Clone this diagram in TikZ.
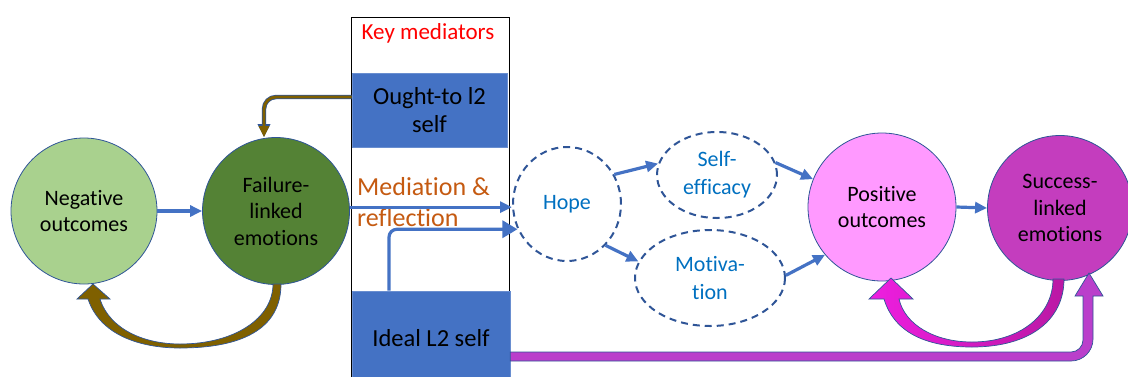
\documentclass[tikz,border=0pt]{standalone}
\usepackage{fontspec}
\setmainfont{Carlito}[Ligatures=NoCommon]
\usetikzlibrary{arrows.meta,shapes.geometric}
\definecolor{ab}{HTML}{4472C4}
\definecolor{olblue}{HTML}{2F5597}
\definecolor{txtblue}{HTML}{0070C0}
\definecolor{negc}{HTML}{A9D18E}
\definecolor{failc}{HTML}{548235}
\definecolor{posc}{HTML}{FF99FF}
\definecolor{succc}{HTML}{C43DBE}
\definecolor{brownc}{HTML}{7F6000}
\definecolor{orangec}{HTML}{C55A11}
\definecolor{purplec}{HTML}{BA3FCB}
\definecolor{magA}{HTML}{EE1EE0}
\definecolor{magB}{HTML}{BA18A4}
\newcommand\fsCirc{\fontsize{22}{26.5}\selectfont}
\newcommand\fsEll{\fontsize{22}{28}\selectfont}
\newcommand\fsBox{\fontsize{24.5}{28}\selectfont}
\newcommand\fsKey{\fontsize{23}{26}\selectfont}
\newcommand\fsMed{\fontsize{26}{31}\selectfont}
\begin{document}
\begin{tikzpicture}[x=1pt,y=-1pt,
  circ/.style={circle, draw=olblue, line width=0.8pt, inner sep=0pt, align=center, font=\fsCirc, text=black},
  dashell/.style={ellipse, draw=olblue, line width=2pt, dash pattern=on 7pt off 5pt, inner sep=0pt, align=center, font=\fsEll, text=txtblue},
  bluebox/.style={rectangle, fill=ab, draw=ab!80!white, line width=0.6pt, inner sep=0pt, align=center, font=\fsBox, text=black},
  barrow/.style={draw=ab, line width=3.2pt, -{Triangle[length=12pt,width=11pt]}},
  blockol/.style={draw=olblue, line width=0.7pt}
]
\useasboundingbox (0,0) rectangle (1128,376);

% key mediators frame
\node[draw=black, line width=1pt, fill=white, minimum width=158pt, minimum height=363pt, inner sep=0pt] (key) at (430,198.5) {};
\node[text=red, font=\fsKey] (keylabel) at (428,33) {Key mediators};
\node[bluebox, minimum width=155pt, minimum height=74pt] (ought) at (429.5,110) {Ought-to l2\\self};
\node[bluebox, minimum width=158pt, minimum height=94pt] (ideal) at (431,338) {Ideal L2 self};

% circles
\node[circ, fill=negc, minimum size=146pt] (neg) at (84,211) {Negative\\outcomes};
\node[circ, fill=failc, minimum size=147pt] (fail) at (276,211) {Failure-\\linked\\emotions};
\node[circ, fill=posc, minimum size=148pt] (pos) at (882,207) {Positive\\outcomes};
\node[circ, fill=succc, minimum size=145pt] (succ) at (1060,208) {Success-\\linked\\emotions};

% dashed ellipses
\node[dashell, minimum width=108pt, minimum height=114pt] (hope) at (567,204) {Hope};
\node[dashell, minimum width=120pt, minimum height=86pt] (selfeff) at (717,175) {Self-\\efficacy};
\node[dashell, minimum width=150pt, minimum height=96pt] (motiv) at (710,278) {Motiva-\\tion};

% mediation text
\node[text=orangec, font=\fsMed, align=left, anchor=west, inner sep=0pt] (medtext) at (357,202) {Mediation \&\\reflection};

% blue arrows
\draw[barrow] (neg.east) -- (fail.west);
\draw[barrow] (fail.3) -- (fail.3 -| hope.west);
\draw[barrow, -{Triangle[length=15pt,width=17pt]}, rounded corners=8pt] ([xshift=-42pt]ideal.north) |- (hope.207);
\draw[barrow] (hope.32) -- (selfeff.169);
\draw[barrow] (hope.-47) -- (motiv.167);
\draw[barrow] (selfeff.12) -- (pos.158);
\draw[barrow] (motiv.2) -- (pos.220);
\draw[barrow] (pos.east) -- (succ.west);

% ought-to -> failure
\draw[preaction={draw=olblue, line width=4.4pt, -{Triangle[length=13pt,width=12pt]}},
      draw=brownc, line width=2.8pt, -{Triangle[length=11pt,width=10pt]}, rounded corners=12pt]
  ([yshift=13pt]ought.west) -| ([xshift=-12pt]fail.north);

% curved block arrow failure -> negative
\path[blockol, fill=brownc]
  (88,299) .. controls (100,335) and (140,348) .. (180,348)
  .. controls (240,348) and (281,330) .. (281,284)
  -- (273,284)
  .. controls (273,318) and (235,344) .. (180,344)
  .. controls (145,344) and (110,330) .. (100,299)
  -- (110,299) -- (93,284) -- (77,299) -- cycle;

% curved block arrow success -> positive
\path[blockol, left color=magA, right color=magB]
  (884,299) .. controls (895,335) and (930,347) .. (972,347)
  .. controls (1030,347) and (1064,320) .. (1064,279)
  -- (1053,279)
  .. controls (1053,315) and (1020,342) .. (972,342)
  .. controls (935,342) and (905,325) .. (899,299)
  -- (913,299) -- (891,278) -- (869,299) -- cycle;

% elbow block arrow ideal -> success
\path[blockol, fill=purplec]
  (ideal.east |- 0,352) -- (1071,352)
  .. controls (1077.6,352) and (1083,346.6) .. (1083,340)
  -- (1083,296) -- (1075,296) -- (1089,273) -- (1103,296) -- (1093,296)
  -- (1093,339)
  .. controls (1093,351.2) and (1083.2,361) .. (1071,361)
  -- (ideal.east |- 0,361) -- cycle;
\end{tikzpicture}
\end{document}
